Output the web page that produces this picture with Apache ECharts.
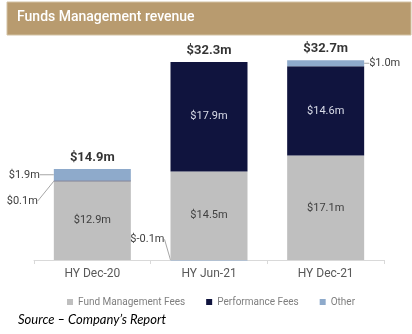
<!DOCTYPE html>
<html>
<head>
<meta charset="utf-8">
<script src="https://cdn.jsdelivr.net/npm/echarts@6/dist/echarts.min.js"></script>
<style>
html,body{margin:0;padding:0;background:#fff;}
#c{width:412px;height:334px;}
</style>
</head>
<body>
<div id="c"></div>
<script>
var categories = ['HY Dec-20', 'HY Jun-21', 'HY Dec-21'];
var fundFees = [12.9, 14.5, 17.1];
var perfFees = [0.1, 17.9, 14.6];
var otherVals = [1.9, -0.1, 1.0];
var totals = [14.9, 32.3, 32.7];
var seriesNames = ['Fund Management Fees', 'Performance Fees', 'Other'];

function fmt(v) { return '$' + v.toFixed(1) + 'm'; }

// top of each positive stack (where the total label sits)
var stackTops = categories.map(function (c, i) {
  return [fundFees[i], perfFees[i], otherVals[i]].reduce(function (a, v) { return a + (v > 0 ? v : 0); }, 0);
});

var chart = echarts.init(document.getElementById('c'), null, {renderer: 'canvas'});
var FONT = 'Roboto';

var option = {
  animation: false,
  backgroundColor: '#ffffff',
  textStyle: {fontFamily: FONT},
  graphic: [
    {type: 'rect', shape: {x: 7, y: 2, width: 404, height: 33}, style: {fill: '#b89b6f', stroke: '#d3c2a4', lineWidth: 1}, z: 0},
    {type: 'text', left: 17, top: 10, style: {text: 'Funds Management revenue', fill: '#ffffff', font: '500 14px Roboto'}, z: 1},
    {type: 'text', left: 18, top: 313, style: {text: 'Source \u2013 Company\u2019s Report', fill: '#000000', font: 'italic 13px Lato'}}
  ],
  legend: {
    data: seriesNames,
    left: 62, top: 292,
    itemWidth: 6, itemHeight: 6, itemGap: 21,
    icon: 'rect',
    textStyle: {color: '#7f7f7f', fontSize: 10, fontFamily: FONT}
  },
  grid: {left: 34, right: 28, bottom: 74, top: 15.6},
  xAxis: {
    type: 'category',
    data: categories,
    axisLine: {lineStyle: {color: '#d9d9d9'}},
    axisTick: {show: true, length: 4, lineStyle: {color: '#d9d9d9'}},
    axisLabel: {color: '#595959', fontSize: 12, margin: 8, fontFamily: FONT}
  },
  yAxis: {type: 'value', min: 0, max: 40, show: false, splitLine: {show: false}},
  series: [
    {
      name: seriesNames[0], type: 'bar', stack: 's', barWidth: 77,
      itemStyle: {color: '#bfbfbf'},
      label: {show: true, position: 'inside', color: '#404040', fontSize: 11, fontFamily: FONT,
        formatter: function (p) { return fmt(p.value); }},
      data: fundFees
    },
    {
      name: seriesNames[1], type: 'bar', stack: 's', barWidth: 77,
      itemStyle: {color: '#10143e'},
      data: perfFees.map(function (v, i) {
        if (i === 0) {
          return {value: v, label: {show: true, position: 'left', color: '#404040', formatter: fmt(v)},
                  labelLine: {show: true, lineStyle: {color: '#a6a6a6', width: 1}}};
        }
        return {value: v, label: {show: true, position: 'inside', color: '#d9dce8', formatter: fmt(v)}};
      }),
      label: {fontSize: 11, fontFamily: FONT},
      labelLayout: function (p) {
        if (p.dataIndex === 0) return {dx: -11, dy: 20};
        return {};
      }
    },
    {
      name: seriesNames[2], type: 'bar', stack: 's', barWidth: 77, clip: false,
      itemStyle: {color: '#8eaacb'},
      label: {show: true, color: '#404040', fontSize: 11, fontFamily: FONT},
      labelLine: {show: true, lineStyle: {color: '#a6a6a6', width: 1}},
      data: otherVals.map(function (v, i) {
        return {value: v, label: {position: i === 2 ? 'right' : 'left', formatter: fmt(v)}};
      }),
      labelLayout: function (p) {
        if (p.dataIndex === 0) return {dx: -9, dy: 0};
        if (p.dataIndex === 1) return {dx: -1, dy: -21};
        return {};
      }
    },
    {
      name: 'Total', type: 'scatter', symbolSize: 0, silent: true,
      label: {show: true, position: 'top', distance: 5, color: '#000000', fontSize: 13, fontWeight: 'bold', fontFamily: FONT,
        formatter: function (p) { return fmt(totals[p.dataIndex]); }},
      data: stackTops
    }
  ]
};
chart.setOption(option);
</script>
</body>
</html>
